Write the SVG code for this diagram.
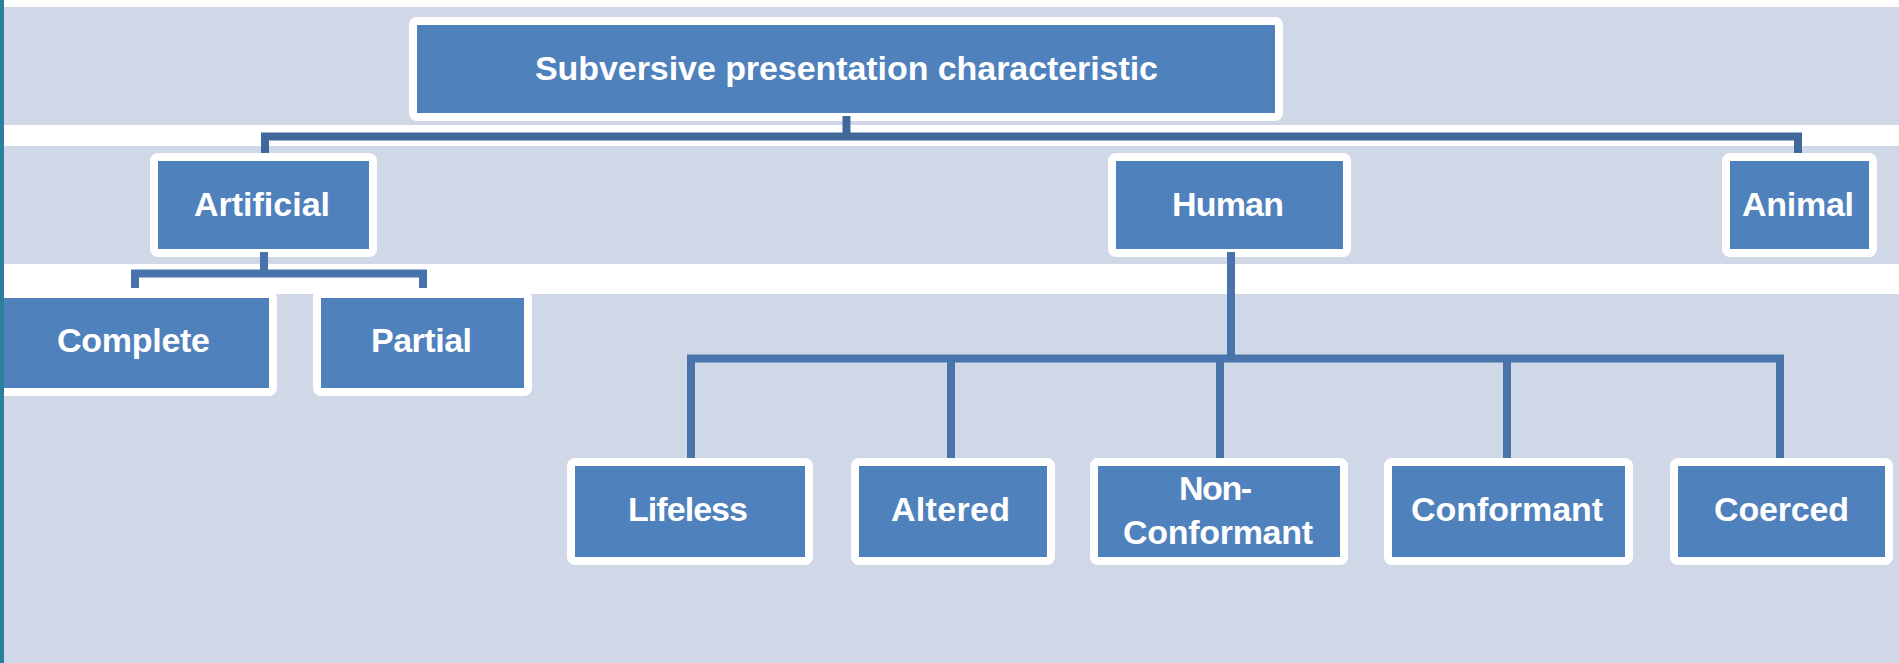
<svg xmlns="http://www.w3.org/2000/svg" width="1899" height="663" viewBox="0 0 1899 663">
  <style>
    .band { fill: #d0d8e8; }
    .box { fill: #4f81bd; stroke: #ffffff; stroke-width: 8; }
    .lbl { font-family: "Liberation Sans", Arial, sans-serif; font-size: 34px; font-weight: bold; fill: #ffffff; text-anchor: middle; }
    .c1 { fill: none; stroke: #41689a; stroke-width: 8; }
    .c2 { fill: none; stroke: #4874ab; stroke-width: 8; }
  </style>
  <rect x="0" y="0" width="1899" height="663" fill="#ffffff"/>
  <g id="background">
    <rect class="band" x="4" y="7" width="1895" height="118"/>
    <rect class="band" x="4" y="146" width="1895" height="118"/>
    <rect class="band" x="4" y="294" width="1895" height="369"/>
  </g>
  <g id="n-root">
    <rect class="box" x="413" y="21" width="866" height="96" rx="4"/>
    <text class="lbl" x="846.5" y="80" textLength="623">Subversive presentation characteristic</text>
  </g>
  <g id="n-artificial">
    <rect class="box" x="154" y="157" width="219" height="96" rx="4"/>
    <text class="lbl" x="262" y="216" textLength="136">Artificial</text>
  </g>
  <g id="n-human">
    <rect class="box" x="1112" y="157" width="235" height="96" rx="4"/>
    <text class="lbl" x="1228" y="216" textLength="112">Human</text>
  </g>
  <g id="n-animal">
    <rect class="box" x="1726" y="157" width="147" height="96" rx="4"/>
    <text class="lbl" x="1798" y="216" textLength="112">Animal</text>
  </g>
  <g id="n-complete">
    <rect class="box" x="-10" y="294" width="283" height="98" rx="4"/>
    <text class="lbl" x="133.5" y="352" textLength="153">Complete</text>
  </g>
  <g id="n-partial">
    <rect class="box" x="317" y="294" width="211" height="98" rx="4"/>
    <text class="lbl" x="421.5" y="352" textLength="101">Partial</text>
  </g>
  <g id="n-lifeless">
    <rect class="box" x="571" y="462" width="238" height="99" rx="4"/>
    <text class="lbl" x="688" y="521" textLength="120">Lifeless</text>
  </g>
  <g id="n-altered">
    <rect class="box" x="855" y="462" width="196" height="99" rx="4"/>
    <text class="lbl" x="950.5" y="521" textLength="119">Altered</text>
  </g>
  <g id="n-nonconformant">
    <rect class="box" x="1094" y="462" width="250" height="99" rx="4"/>
    <text class="lbl" x="1215.5" y="500" textLength="73">Non-</text>
    <text class="lbl" x="1218" y="544" textLength="190">Conformant</text>
  </g>
  <g id="n-conformant">
    <rect class="box" x="1388" y="462" width="241" height="99" rx="4"/>
    <text class="lbl" x="1507" y="521" textLength="192">Conformant</text>
  </g>
  <g id="n-coerced">
    <rect class="box" x="1674" y="462" width="215" height="99" rx="4"/>
    <text class="lbl" x="1781.5" y="521" textLength="135">Coerced</text>
  </g>
  <g id="connectors">
    <path class="c1" d="M265,153 V136.5 H1798 V153"/>
    <path class="c1" d="M846.5,116 V136.5"/>
    <path class="c2" d="M135,288 V273.5 H423 V288"/>
    <path class="c2" d="M264,252 V273.5"/>
    <path class="c2" d="M1231,252 V358.5"/>
    <path class="c2" d="M691,458 V358.5 H1780 V458"/>
    <path class="c2" d="M951,358.5 V458"/>
    <path class="c2" d="M1220,358.5 V458"/>
    <path class="c2" d="M1507,358.5 V458"/>
  </g>
  <rect id="edge-strip" x="0" y="0" width="4" height="663" fill="#2b7f9c"/>
</svg>
